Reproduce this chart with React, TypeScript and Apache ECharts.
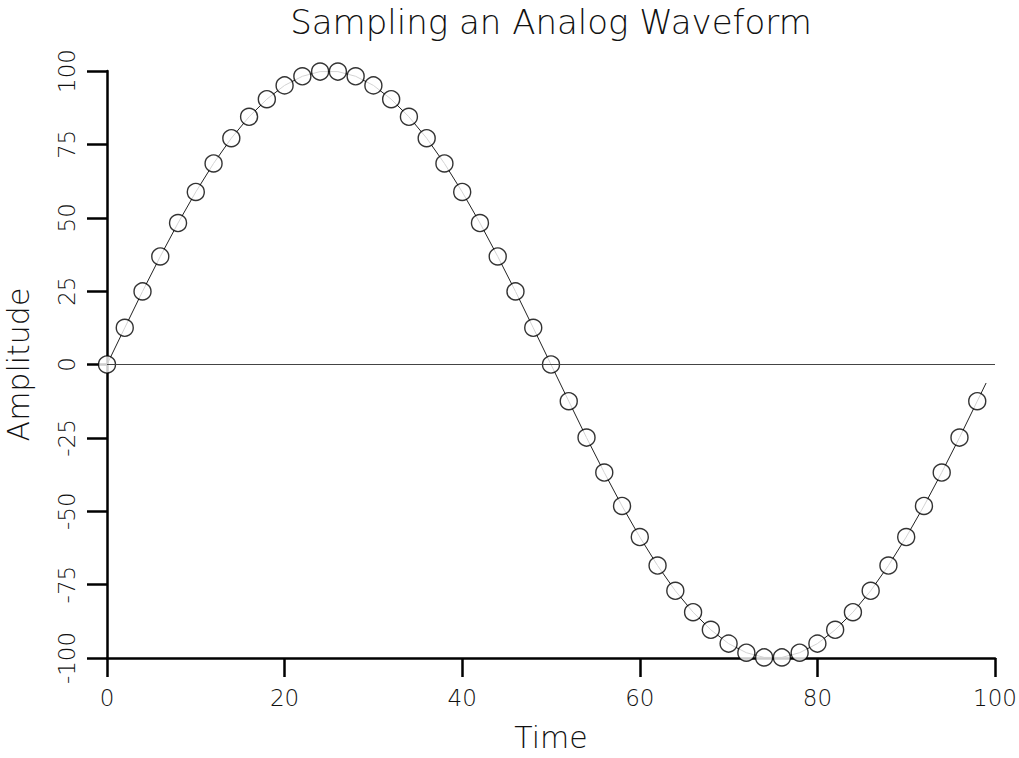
import React, { useEffect, useRef } from "react";
import * as echarts from "echarts";

const titleText = "Sampling an Analog Waveform";
const xName = "Time";
const yName = "Amplitude";

const sampleTimes = [
  0, 2, 4, 6, 8, 10, 12, 14, 16, 18, 20, 22, 24, 26, 28, 30, 32, 34, 36, 38,
  40, 42, 44, 46, 48, 50, 52, 54, 56, 58, 60, 62, 64, 66, 68, 70, 72, 74, 76, 78,
  80, 82, 84, 86, 88, 90, 92, 94, 96, 98,
];
const sampleValues = [
  0, 12.5, 24.9, 36.8, 48.2, 58.8, 68.5, 77.1, 84.4, 90.4, 95.1, 98.2, 99.8, 99.8, 98.2, 95.1, 90.4, 84.4, 77.1, 68.5,
  58.8, 48.2, 36.8, 24.9, 12.5, 0, -12.5, -24.9, -36.8, -48.2, -58.8, -68.5, -77.1, -84.4, -90.4, -95.1, -98.2, -99.8, -99.8, -98.2,
  -95.1, -90.4, -84.4, -77.1, -68.5, -58.8, -48.2, -36.8, -24.9, -12.5,
];
// end of the continuous waveform, past the last sample
const tailTime = 99;
const tailValue = -6.3;

const xTicks = [0, 20, 40, 60, 80, 100];
const yTicks = [-100, -75, -50, -25, 0, 25, 50, 75, 100];

const FONT = "DejaVu Sans";
const TEXT_COLOR = "#111";

export default function App() {
  const ref = useRef<HTMLDivElement>(null);

  useEffect(() => {
    if (!ref.current) return;
    const chart = echarts.init(ref.current, null, { renderer: "svg" });

    const samples = sampleTimes.map((t, i) => [t, sampleValues[i]]);
    const wave = [...samples, [tailTime, tailValue]];

    chart.setOption({
      animation: false,
      backgroundColor: "#ffffff",
      title: {
        text: titleText,
        left: 546,
        top: 0,
        textAlign: "center",
        textStyle: {
          fontFamily: FONT,
          fontSize: 34,
          fontWeight: 200,
          color: TEXT_COLOR,
        },
      },
      grid: {
        left: 107,
        right: 24,
        top: 71,
        bottom: 100,
        containLabel: false,
        outerBoundsMode: "none",
      },
      xAxis: {
        type: "value",
        min: xTicks[0],
        max: xTicks[xTicks.length - 1],
        interval: 20,
        name: xName,
        nameLocation: "middle",
        nameGap: 64,
        nameTextStyle: { fontFamily: FONT, fontSize: 30, fontWeight: 200, color: TEXT_COLOR },
        axisLine: { onZero: false, lineStyle: { color: "#000", width: 2.5 } },
        axisTick: { length: 19, lineStyle: { color: "#000", width: 2.5 } },
        axisLabel: { margin: 28, fontFamily: FONT, fontSize: 23, fontWeight: 200, color: TEXT_COLOR },
        splitLine: { show: false },
      },
      yAxis: {
        type: "value",
        min: yTicks[0],
        max: yTicks[yTicks.length - 1],
        interval: 25,
        name: yName,
        nameLocation: "middle",
        nameGap: 74,
        nameRotate: 90,
        nameTextStyle: { fontFamily: FONT, fontSize: 30, fontWeight: 200, color: TEXT_COLOR },
        axisLine: { show: true, onZero: false, lineStyle: { color: "#000", width: 2.5 } },
        axisTick: { show: true, length: 20, lineStyle: { color: "#000", width: 2.5 } },
        axisLabel: { rotate: 90, margin: 29, fontFamily: FONT, fontSize: 23, fontWeight: 200, color: TEXT_COLOR },
        splitLine: { show: false },
      },
      series: [
        {
          type: "line",
          data: wave,
          showSymbol: false,
          symbol: "none",
          lineStyle: { color: "#222", width: 1 },
          z: 2,
          markLine: {
            silent: true,
            symbol: "none",
            label: { show: false },
            lineStyle: { color: "#444", width: 1, type: "solid" },
            data: [{ yAxis: 0 }],
          },
        },
        {
          type: "scatter",
          data: samples,
          symbol: "circle",
          symbolSize: 17,
          itemStyle: { color: "#ffffff", borderColor: "#000", borderWidth: 1.4 },
          z: 3,
        },
      ],
    });

    return () => chart.dispose();
  }, []);

  return (
    <div
      ref={ref}
      style={{ position: "fixed", left: 0, top: 0, width: 1019, height: 758, background: "#fff" }}
    />
  );
}
